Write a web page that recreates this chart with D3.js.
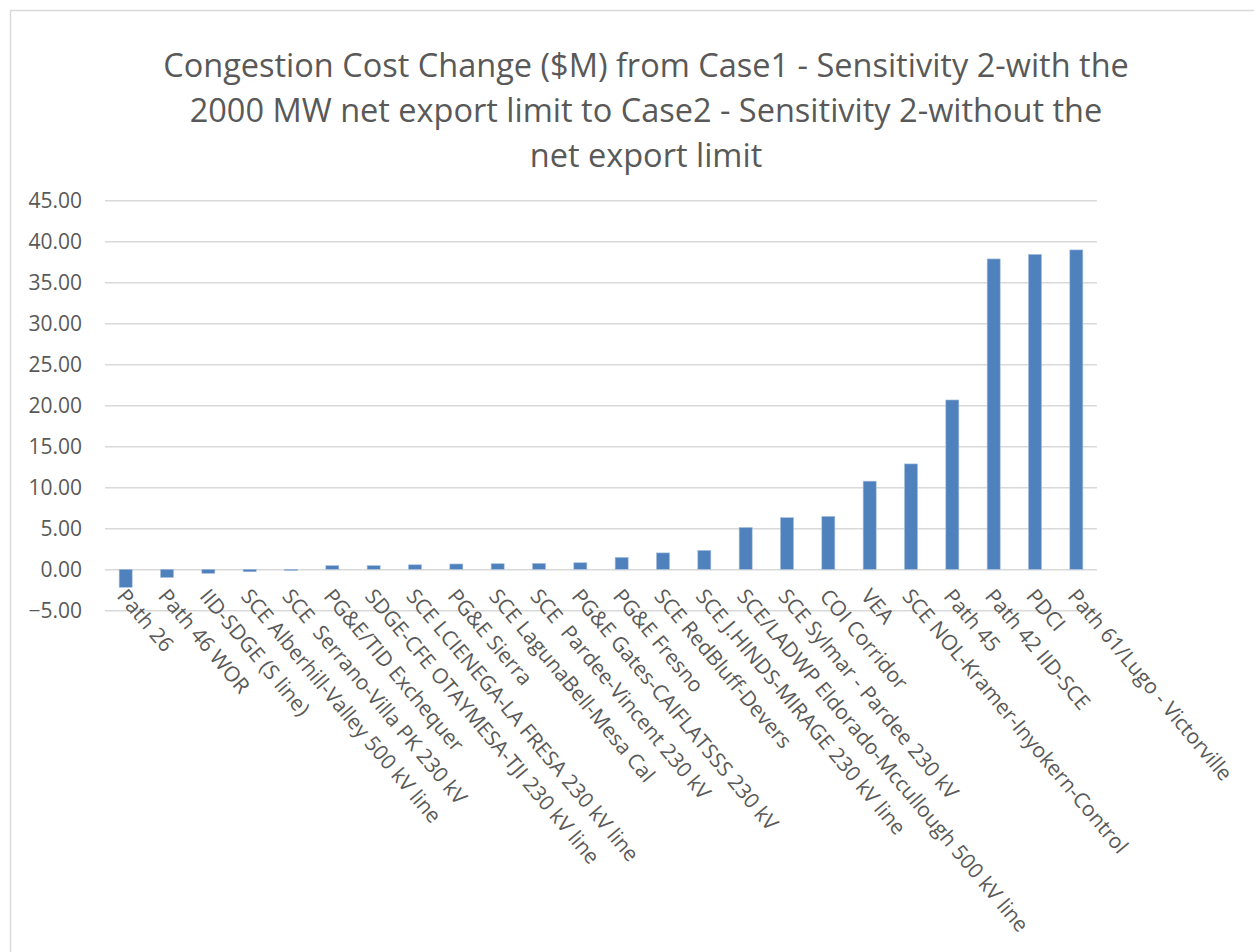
<!DOCTYPE html>
<html lang="en">
<head>
    <meta charset="UTF-8">
    <title>Congestion Cost Change</title>
    <style>
        body { margin: 0; background: #fff; }
        text { font-family: "Open Sans", "DejaVu Sans", sans-serif; fill: #595959; }
    </style>
</head>
<body>

<div id="chart"></div>

<script src="https://d3js.org/d3.v7.min.js"></script>
<script>
    var titleLines = [
        "Congestion Cost Change ($M) from Case1 - Sensitivity 2-with the",
        "2000 MW net export limit to Case2 - Sensitivity 2-without the",
        "net export limit"
    ];

    var paths = [
        "Path 26", "Path 46 WOR", "IID-SDGE (S line)", "SCE Alberhill-Valley 500 kV line",
        "SCE  Serrano-Villa PK 230 kV", "PG&E/TID Exchequer", "SDGE-CFE OTAYMESA-TJI 230 kV line",
        "SCE LCIENEGA-LA FRESA 230 kV line", "PG&E Sierra", "SCE LagunaBell-Mesa Cal",
        "SCE  Pardee-Vincent 230 kV", "PG&E Gates-CAIFLATSSS 230 kV", "PG&E Fresno",
        "SCE RedBluff-Devers", "SCE J.HINDS-MIRAGE 230 kV line",
        "SCE/LADWP Eldorado-Mccullough 500 kV line", "SCE Sylmar - Pardee 230 kV",
        "COI Corridor", "VEA", "SCE NOL-Kramer-Inyokern-Control", "Path 45",
        "Path 42 IID-SCE", "PDCI", "Path 61/Lugo - Victorville"
    ];

    var costChange = [
        -2.2, -1.0, -0.5, -0.3, -0.15, 0.45, 0.45, 0.55, 0.65, 0.68,
        0.72, 0.8, 1.45, 2.0, 2.3, 5.1, 6.3, 6.45, 10.75, 12.85,
        20.65, 37.85, 38.4, 38.95
    ];

    var yTicks = [-5, 0, 5, 10, 15, 20, 25, 30, 35, 40, 45];

    var width = 1254, height = 952;
    var plot = {left: 105, right: 1097, top: 200.3, bottom: 610.3};

    var svg = d3.select("#chart").append("svg")
        .attr("width", width)
        .attr("height", height);

    // chart border
    svg.append("rect")
        .attr("x", 10.5).attr("y", 10.5)
        .attr("width", 1280).attr("height", 1000)
        .attr("fill", "#fff")
        .attr("stroke", "#d9d9d9")
        .attr("stroke-width", 1.5);

    // title
    svg.append("g").selectAll("text")
        .data(titleLines).enter()
        .append("text")
        .attr("x", 646)
        .attr("y", function(d, i) { return 77 + i * 45; })
        .attr("text-anchor", "middle")
        .style("font-size", "32.5px")
        .text(function(d) { return d; });

    var x = d3.scaleBand()
        .domain(paths)
        .range([plot.left, plot.right])
        .paddingInner(0.685)
        .paddingOuter(0.3425);

    var y = d3.scaleLinear()
        .domain([-5, 45])
        .range([plot.bottom, plot.top]);

    // gridlines + tick labels
    var yAxis = svg.append("g")
        .attr("transform", "translate(" + plot.left + ",0)")
        .call(d3.axisLeft(y).tickValues(yTicks).tickSize(-(plot.right - plot.left))
            .tickPadding(23).tickFormat(d3.format(".2f")));
    yAxis.select(".domain").remove();
    yAxis.selectAll(".tick line").attr("stroke", "#d9d9d9").attr("stroke-width", 1.5);
    yAxis.selectAll(".tick text")
        .attr("fill", "#595959")
        .style("font-size", "21px")
        .style("font-family", "'Open Sans', sans-serif");

    // bars
    svg.append("g").selectAll("rect")
        .data(costChange).enter()
        .append("rect")
        .attr("x", function(d, i) { return x(paths[i]); })
        .attr("y", function(d) { return y(Math.max(0, d)); })
        .attr("width", x.bandwidth())
        .attr("height", function(d) { return Math.abs(y(d) - y(0)); })
        .attr("fill", "#4f81bd")
        .attr("stroke", "#a7bfde")
        .attr("stroke-width", 0.6);

    // rotated category labels
    svg.append("g").selectAll("text")
        .data(paths).enter()
        .append("text")
        .attr("transform", function(d) {
            return "translate(" + (x(d) + x.bandwidth() / 2 - 4) + "," + 592 + ") rotate(50)";
        })
        .attr("dy", "0.35em")
        .attr("text-anchor", "start")
        .style("font-size", "21px")
        .style("white-space", "pre")
        .text(function(d) { return d; });
</script>

</body>
</html>
